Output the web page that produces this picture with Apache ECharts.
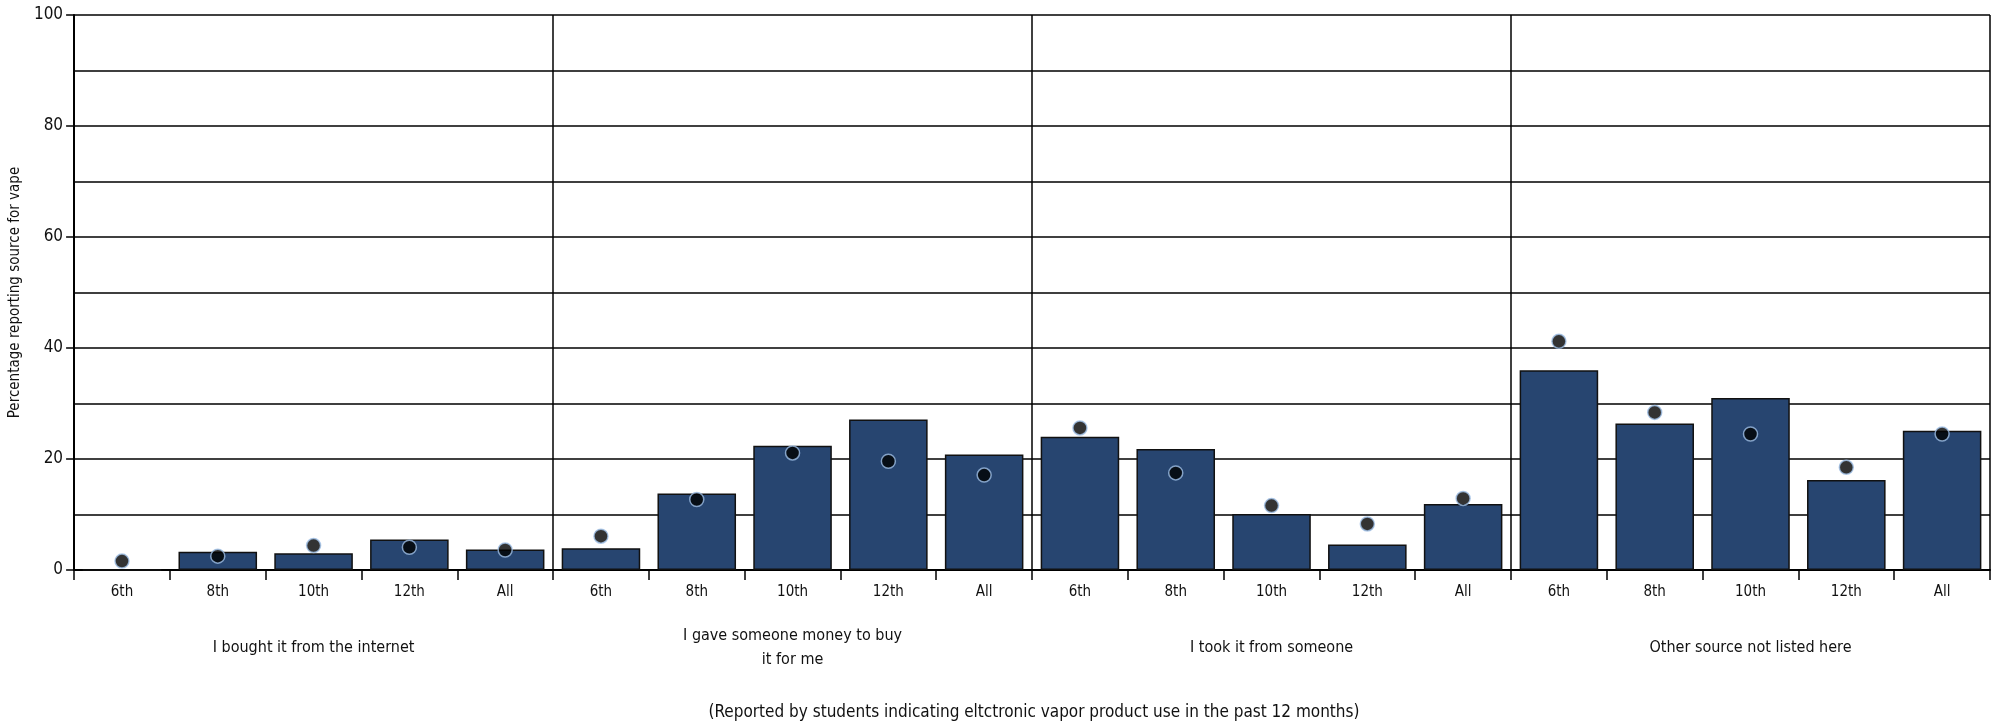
<!DOCTYPE html>
<html>
<head>
<meta charset="utf-8">
<script src="https://cdn.jsdelivr.net/npm/echarts@6/dist/echarts.min.js"></script>
<style>
  html, body { margin: 0; padding: 0; background: #fff; }
  #chart { width: 1999px; height: 726px; }
</style>
</head>
<body>
<div id="chart"></div>
<script>
// grades inside each source group
var grades = ['6th', '8th', '10th', '12th', 'All'];
// source groups
var sources = [
  'I bought it from the internet',
  'I gave someone money to buy\nit for me',
  'I took it from someone',
  'Other source not listed here'
];
// bar values (percent), one row per source
var barInternet = [0, 3.3, 3.0, 5.5, 3.7];
var barMoney    = [3.9, 13.8, 22.4, 27.1, 20.8];
var barTook     = [24.0, 21.8, 10.1, 4.6, 11.9];
var barOther    = [36.0, 26.4, 31.0, 16.2, 25.1];
// dot values (percent)
var dotInternet = [1.6, 2.5, 4.4, 4.1, 3.6];
var dotMoney    = [6.1, 12.7, 21.1, 19.6, 17.1];
var dotTook     = [25.6, 17.5, 11.6, 8.3, 12.9];
var dotOther    = [41.2, 28.4, 24.5, 18.5, 24.5];
var yTicks = [0, 20, 40, 60, 80, 100];

var FONT = '"Liberation Sans Narrow", "DejaVu Sans Condensed", "Roboto", sans-serif';

var categories = [];
sources.forEach(function () { grades.forEach(function (g) { categories.push(g); }); });
var bars = [].concat(barInternet, barMoney, barTook, barOther);
var dots = [].concat(dotInternet, dotMoney, dotTook, dotOther);

var myChart = echarts.init(document.getElementById('chart'));

myChart.setOption({
  animation: false,
  textStyle: { fontFamily: FONT },
  grid: { left: 73, right: 9, top: 15, bottom: 156 },
  xAxis: [
    {
      type: 'category',
      position: 'bottom',
      data: categories,
      axisLine: { show: true, lineStyle: { color: '#000', width: 2 } },
      axisTick: { show: true, length: 10, lineStyle: { color: '#000', width: 1.5 } },
      axisLabel: { color: '#111', fontSize: 15, margin: 15, interval: 0, fontFamily: FONT },
      splitLine: { show: false }
    },
    {
      type: 'category',
      position: 'bottom',
      data: sources,
      axisLine: { show: false },
      axisTick: { show: true, length: 10, lineStyle: { color: '#000', width: 1.5 } },
      axisLabel: {
        color: '#111', fontSize: 16, margin: 78, interval: 0,
        verticalAlign: 'middle', lineHeight: 24, fontFamily: FONT
      },
      splitLine: { show: true, lineStyle: { color: '#000', width: 1.5 } }
    }
  ],
  yAxis: {
    type: 'value',
    min: yTicks[0],
    max: yTicks[yTicks.length - 1],
    interval: 20,
    name: 'Percentage reporting source for vape',
    nameLocation: 'middle',
    nameGap: 50,
    nameRotate: 90,
    nameTextStyle: { color: '#111', fontSize: 15, fontFamily: FONT },
    axisLine: { show: true, lineStyle: { color: '#000', width: 2 } },
    axisTick: { show: true, length: 8, lineStyle: { color: '#000', width: 1.5 } },
    axisLabel: { color: '#111', fontSize: 17, margin: 11, fontFamily: FONT },
    splitLine: { show: true, lineStyle: { color: '#000', width: 1.5 } },
    minorTick: { show: false, splitNumber: 2 },
    minorSplitLine: { show: true, lineStyle: { color: '#000', width: 1.5 } }
  },
  graphic: [
    {
      type: 'text',
      x: 1034,
      y: 704,
      style: {
        text: '(Reported by students indicating eltctronic vapor product use in the past 12 months)',
        fill: '#111',
        font: '17px ' + FONT,
        align: 'center'
      }
    }
  ],
  series: [
    {
      name: 'Percent',
      type: 'bar',
      xAxisIndex: 0,
      data: bars,
      barCategoryGap: '18%',
      itemStyle: { color: '#274570', borderColor: '#111', borderWidth: 1.5 },
      z: 2
    },
    {
      name: 'Dots',
      type: 'scatter',
      xAxisIndex: 0,
      data: dots,
      symbol: 'circle',
      symbolSize: 14,
      itemStyle: { color: '#000', borderColor: '#9fbfe6', borderWidth: 1.5 },
      z: 3
    }
  ]
});
</script>
</body>
</html>
